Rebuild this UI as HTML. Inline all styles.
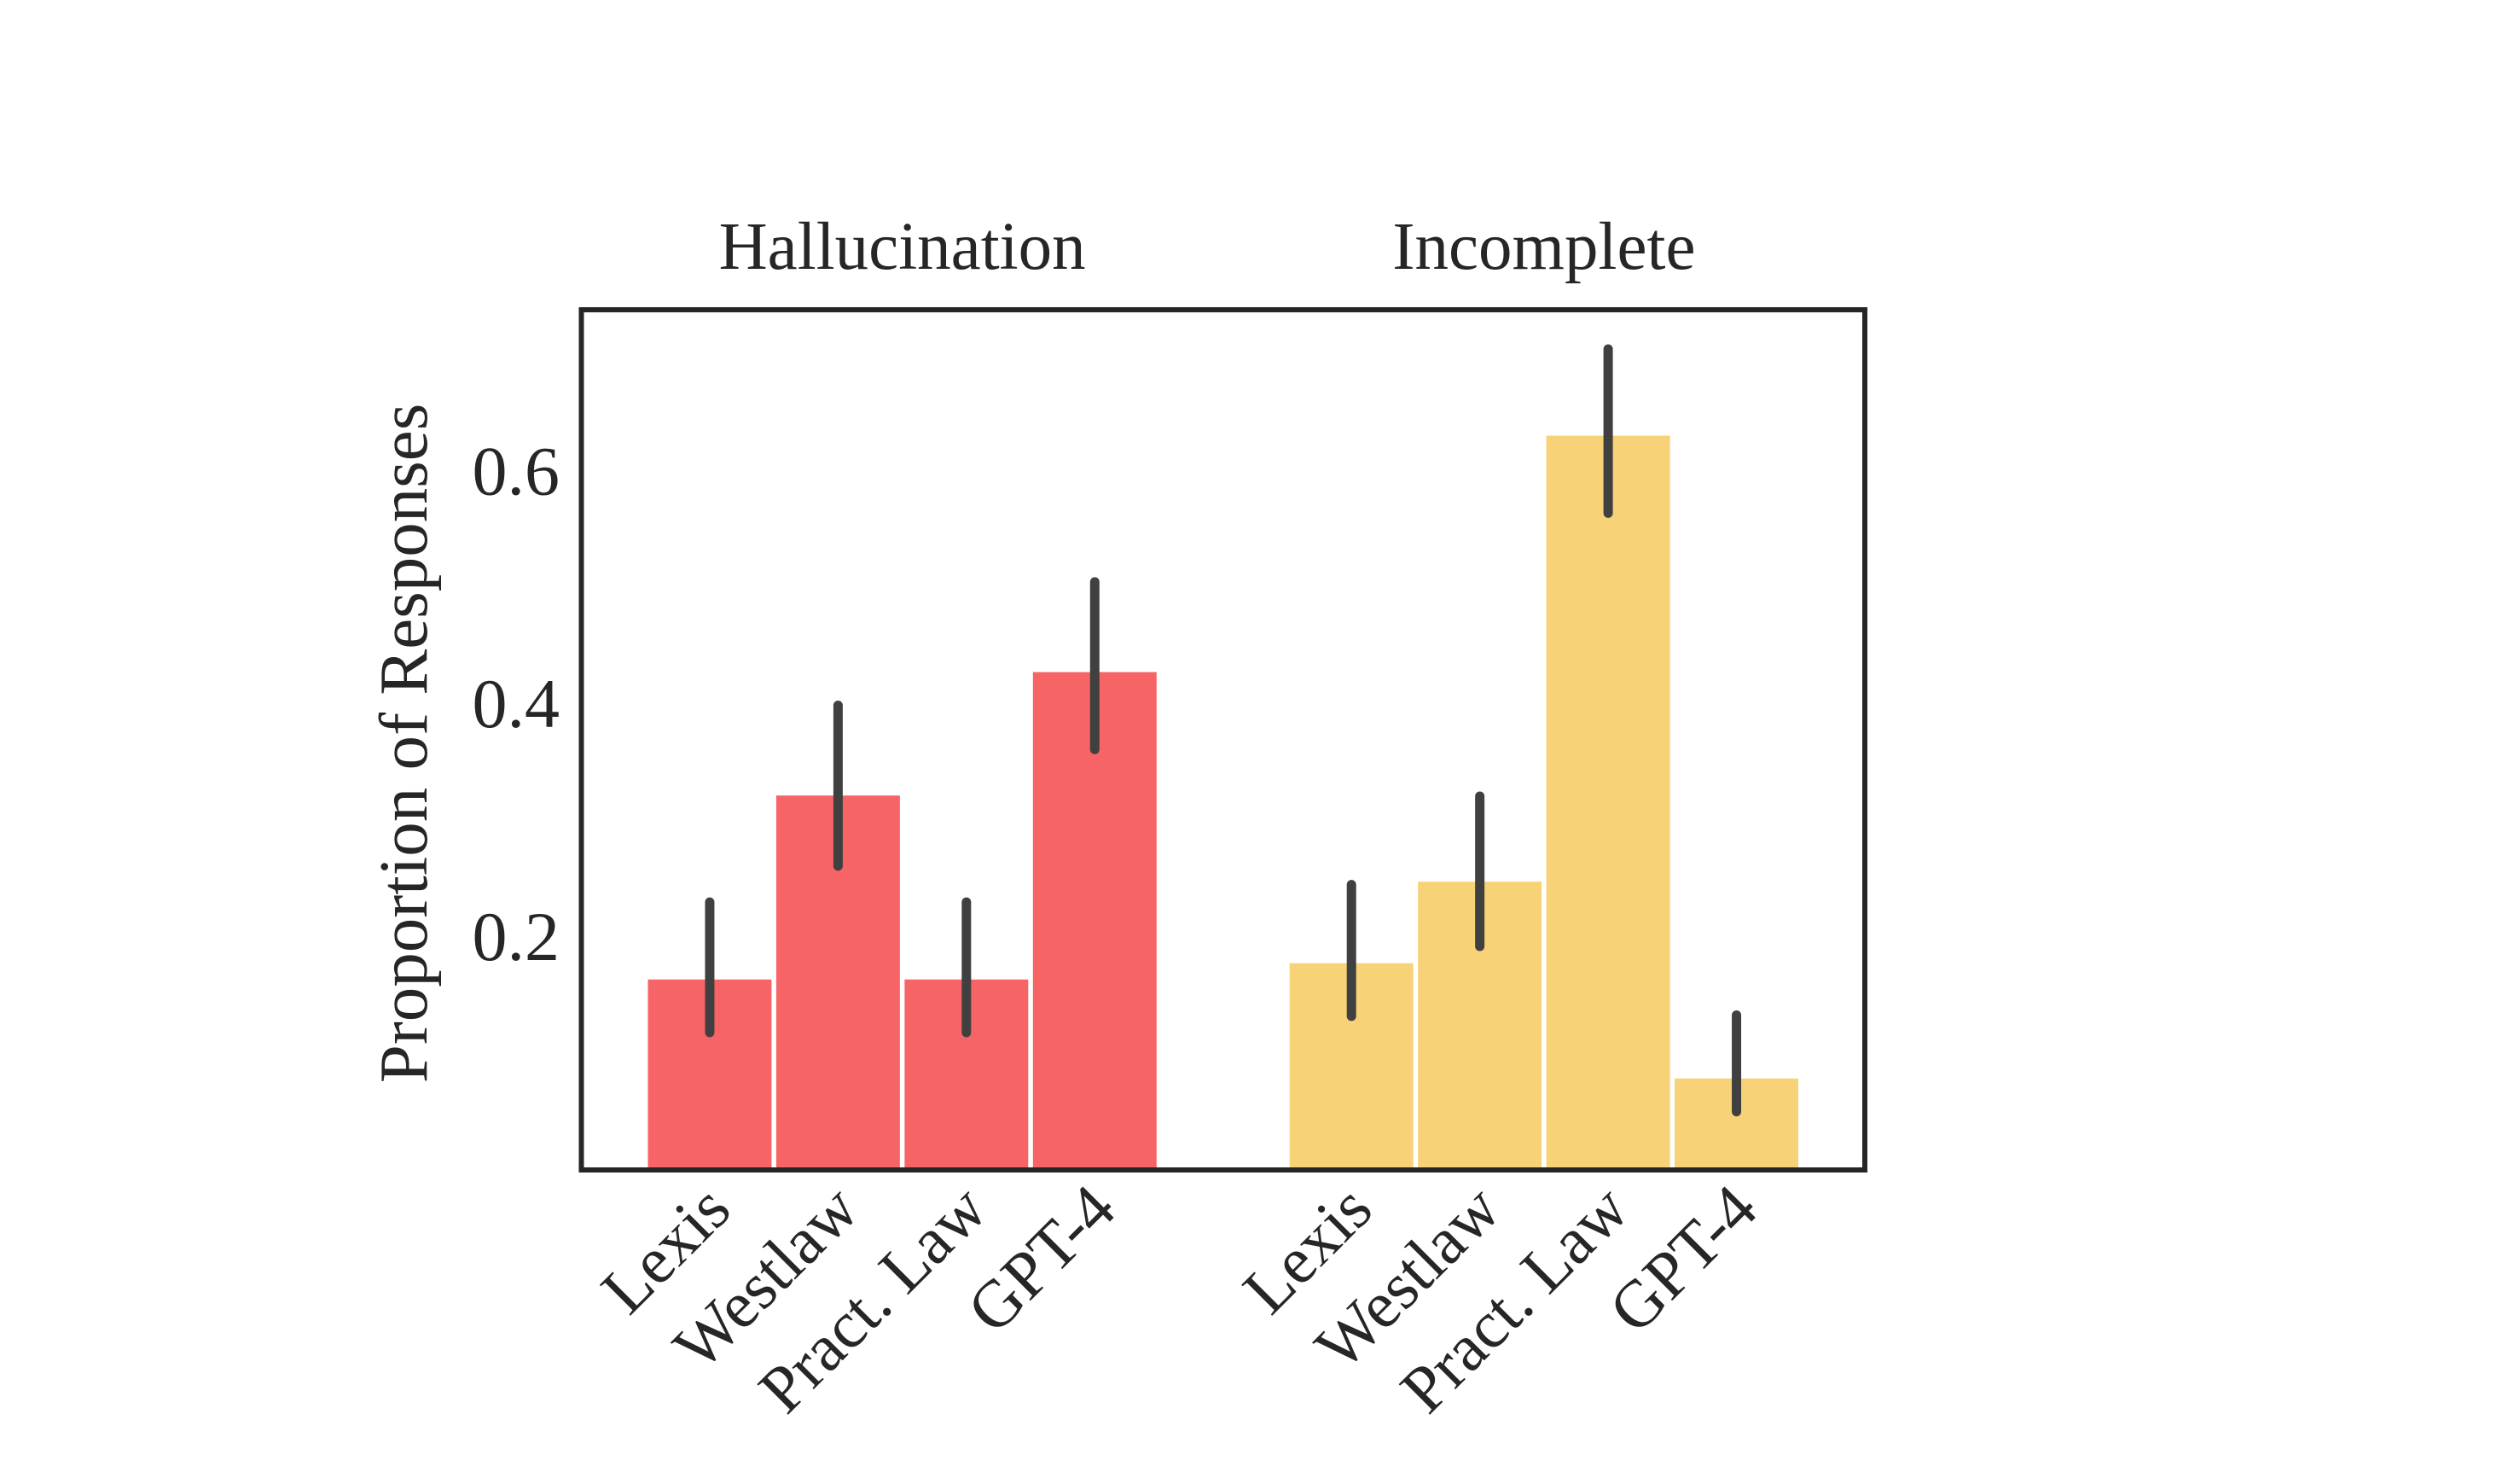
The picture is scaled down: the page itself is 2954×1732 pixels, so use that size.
<!DOCTYPE html>
<html><head><meta charset="utf-8"><style>
html,body{margin:0;padding:0;background:#fff;}
svg{display:block;font-family:"Liberation Serif",serif;}
</style></head><body>
<svg id="chart" width="2954" height="1732" viewBox="0 0 2954 1732" xmlns="http://www.w3.org/2000/svg">
<rect width="2954" height="1732" fill="#fff"/>
<g id="marks"></g>
<g id="axes"></g>
</svg>
<script>
const groups = ["Hallucination", "Incomplete"];
const categories = ["Lexis", "Westlaw", "Pract. Law", "GPT-4"];
const hallValues = [0.165, 0.323, 0.165, 0.429];
const hallLow = [0.118, 0.261, 0.118, 0.361];
const hallHigh = [0.230, 0.399, 0.230, 0.505];
const incValues = [0.179, 0.249, 0.632, 0.080];
const incLow = [0.132, 0.192, 0.564, 0.050];
const incHigh = [0.245, 0.321, 0.705, 0.133];
const yTicks = [0.2, 0.4, 0.6];
const yTickLabels = ["0.2", "0.4", "0.6"];

const NS = "http://www.w3.org/2000/svg";
const L = 681.5, R = 2186, T = 363, B = 1371;
const xMin = -1, xMax = 9, yMin = 0, yMax = 0.7387;
function xs(v){ return L + (v - xMin) / (xMax - xMin) * (R - L); }
function ys(v){ return B - (v - yMin) / (yMax - yMin) * (B - T); }
function mk(tag, attrs, parent){
  const e = document.createElementNS(NS, tag);
  for (const k in attrs) e.setAttribute(k, attrs[k]);
  parent.appendChild(e); return e;
}
const marks = document.getElementById('marks');
const axes = document.getElementById('axes');
const series = [
  {vals: hallValues, lo: hallLow, hi: hallHigh, color: "#f76466", offset: 0, key: "hallucination"},
  {vals: incValues, lo: incLow, hi: incHigh, color: "#f8d277", offset: 5, key: "incomplete"}
];
const bw = 0.99;
series.forEach((s, si) => {
  s.vals.forEach((v, i) => {
    const pos = s.offset + i;
    const x0 = xs(pos - bw/2), x1 = xs(pos + bw/2);
    const r = mk('rect', {x: x0, y: ys(v), width: x1 - x0, height: ys(0) - ys(v), fill: s.color, stroke: "#fff", "stroke-width": 4}, marks);
    
    
  });
  s.vals.forEach((v, i) => {
    const pos = s.offset + i;
    const l = mk('line', {x1: xs(pos), x2: xs(pos), y1: ys(s.lo[i]), y2: ys(s.hi[i]), stroke: "#404040", "stroke-width": 11, "stroke-linecap": "round"}, marks);
    
    
    const ax = xs(pos) + 28, ay = B + 50;
    const t = mk('text', {x: ax, y: ay, "text-anchor": "end", "font-size": 78, fill: "#262626", transform: `rotate(-45 ${ax} ${ay})`}, axes);
    t.textContent = categories[i];
    
    
  });
  const cx = (xs(s.offset) + xs(s.offset + 3)) / 2;
  const gt = mk('text', {x: cx, y: 315, "text-anchor": "middle", "font-size": 79, fill: "#262626"}, axes);
  gt.textContent = groups[si];
  
  
});
const frame = mk('rect', {x: L, y: T, width: R - L, height: B - T, fill: "none", stroke: "#262626", "stroke-width": 6}, axes);


yTicks.forEach((v, i) => {
  const t = mk('text', {x: 656, y: ys(v) + 27, "text-anchor": "end", "font-size": 82, fill: "#262626"}, axes);
  t.textContent = yTickLabels[i];
  
  
});
const yl = mk('text', {x: 0, y: 0, "text-anchor": "middle", "font-size": 81, fill: "#262626", transform: "translate(500 871) rotate(-90)"}, axes);
yl.textContent = "Proportion of Responses";


</script>
</body></html>
